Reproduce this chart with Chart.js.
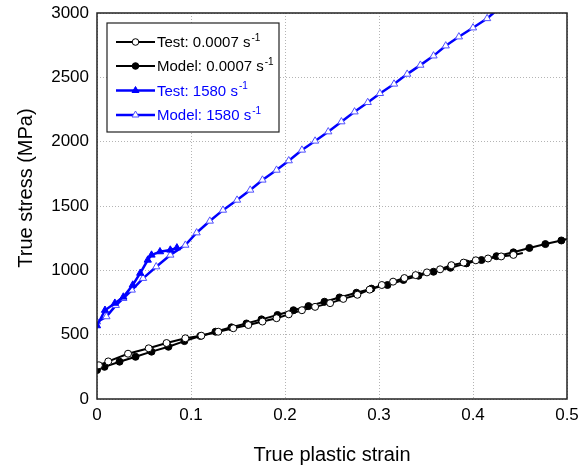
<!DOCTYPE html>
<html>
<head>
<meta charset="utf-8">
<script src="https://cdn.jsdelivr.net/npm/chart.js@4/dist/chart.umd.min.js"></script>
<style>
  body { margin: 0; background: #fff; }
  #wrap { width: 582px; height: 470px; }
</style>
</head>
<body>
<div id="wrap"><canvas id="stressChart" width="582" height="470"></canvas></div>
<script>
// Quasi-static test and model (0.0007 1/s)
const testSlowStrain = [0.002, 0.012, 0.033, 0.055, 0.074, 0.094, 0.111, 0.129, 0.145, 0.161, 0.176, 0.191, 0.204, 0.218, 0.232, 0.248, 0.262, 0.277, 0.290, 0.303, 0.315, 0.327, 0.339, 0.351, 0.365, 0.377, 0.390, 0.403, 0.416, 0.430, 0.443, 0.453];
const testSlowStress = [262, 292, 352, 394, 435, 472, 492, 523, 550, 575, 602, 628, 658, 690, 716, 745, 778, 810, 850, 886, 912, 940, 963, 984, 1008, 1040, 1060, 1078, 1092, 1108, 1120, 1134];

const modelSlowStrain = [0, 0.008, 0.024, 0.041, 0.058, 0.076, 0.093, 0.110, 0.126, 0.143, 0.159, 0.175, 0.192, 0.209, 0.225, 0.242, 0.258, 0.276, 0.292, 0.309, 0.326, 0.342, 0.358, 0.376, 0.393, 0.409, 0.425, 0.443, 0.460, 0.477, 0.494, 0.5];
const modelSlowStress = [225, 250, 290, 328, 368, 406, 450, 490, 523, 557, 587, 619, 653, 690, 722, 756, 789, 826, 858, 886, 925, 958, 989, 1020, 1054, 1080, 1110, 1140, 1174, 1204, 1232, 1243];

// Dynamic test and model (1580 1/s)
const testFastStrain = [0, 0.0085, 0.019, 0.028, 0.038, 0.046, 0.054, 0.058, 0.067, 0.078, 0.085];
const testFastStress = [570, 690, 745, 793, 886, 978, 1080, 1119, 1145, 1158, 1175];

const modelFastStrain = [0, 0.010, 0.020, 0.028, 0.037, 0.049, 0.063, 0.078, 0.094, 0.106, 0.120, 0.134, 0.149, 0.163, 0.176, 0.191, 0.204, 0.218, 0.232, 0.246, 0.260, 0.274, 0.288, 0.301, 0.316, 0.330, 0.344, 0.358, 0.371, 0.385, 0.400, 0.415, 0.425];
const modelFastStress = [600, 640, 728, 782, 847, 938, 1028, 1119, 1196, 1292, 1383, 1468, 1546, 1624, 1702, 1779, 1852, 1935, 2005, 2077, 2155, 2232, 2305, 2375, 2448, 2525, 2595, 2667, 2745, 2815, 2885, 2957, 3020];

const legendNames = ['Test: 0.0007 s', 'Model: 0.0007 s', 'Test: 1580 s', 'Model: 1580 s'];
const legendSup = '-1';

const BLUE = '#0000ff';
const FONT = 'Liberation Sans, Arial, sans-serif';

function toPoints(xs, ys) {
  return xs.map((x, i) => ({ x, y: ys[i] }));
}

// hide marker on a line's trailing point
function noLastMarker(r) {
  return (ctx) => (ctx.dataIndex === ctx.dataset.data.length - 1 ? 0 : r);
}

const datasets = [
  {
    label: legendNames[0],
    data: toPoints(testSlowStrain, testSlowStress),
    borderColor: '#000', borderWidth: 2,
    pointStyle: 'circle', pointRadius: noLastMarker(3.5),
    pointBackgroundColor: '#fff', pointBorderColor: '#000', pointBorderWidth: 1,
  },
  {
    label: legendNames[1],
    data: toPoints(modelSlowStrain, modelSlowStress),
    borderColor: '#000', borderWidth: 2,
    pointStyle: 'circle', pointRadius: noLastMarker(3.5),
    pointBackgroundColor: '#000', pointBorderColor: '#000', pointBorderWidth: 1,
  },
  {
    label: legendNames[2],
    data: toPoints(testFastStrain, testFastStress),
    borderColor: BLUE, borderWidth: 2.5,
    pointStyle: 'triangle', pointRadius: 4.2,
    pointBackgroundColor: BLUE, pointBorderColor: BLUE, pointBorderWidth: 1,
  },
  {
    label: legendNames[3],
    data: toPoints(modelFastStrain, modelFastStress),
    borderColor: BLUE, borderWidth: 2.5,
    pointStyle: 'triangle', pointRadius: noLastMarker(4.2),
    pointBackgroundColor: '#fff', pointBorderColor: '#5050ff', pointBorderWidth: 1,
  },
];

function drawMarker(ctx, style, x, y, r, fill, stroke) {
  ctx.beginPath();
  if (style === 'circle') {
    ctx.arc(x, y, r, 0, Math.PI * 2);
  } else {
    let rad = 0;
    ctx.moveTo(x + Math.sin(rad) * r, y - Math.cos(rad) * r);
    rad += Math.PI * 2 / 3;
    ctx.lineTo(x + Math.sin(rad) * r, y - Math.cos(rad) * r);
    rad += Math.PI * 2 / 3;
    ctx.lineTo(x + Math.sin(rad) * r, y - Math.cos(rad) * r);
    ctx.closePath();
  }
  ctx.fillStyle = fill;
  ctx.fill();
  ctx.lineWidth = 1;
  ctx.strokeStyle = stroke;
  ctx.stroke();
}

// frame, y title and the boxed legend
const framePlugin = {
  id: 'frameLegend',
  afterDraw(chart) {
    const { ctx, chartArea: a } = chart;
    ctx.save();
    ctx.lineWidth = 1.5;
    ctx.strokeStyle = '#222';
    ctx.strokeRect(a.left, a.top, a.right - a.left, a.bottom - a.top);

    // y axis title
    ctx.fillStyle = '#000';
    ctx.font = '20px ' + FONT;
    ctx.textAlign = 'center';
    ctx.textBaseline = 'middle';
    ctx.translate(26, 188);
    ctx.rotate(-Math.PI / 2);
    ctx.fillText('True stress (MPa)', 0, 0);
    ctx.restore();

    // legend
    ctx.save();
    ctx.fillStyle = '#fff';
    ctx.fillRect(107, 23, 172, 109);
    ctx.lineWidth = 1.2;
    ctx.strokeStyle = '#222';
    ctx.strokeRect(107, 23, 172, 109);
    const rowsY = [42, 66, 90.5, 115];
    chart.data.datasets.forEach((ds, i) => {
      const y = rowsY[i];
      ctx.beginPath();
      ctx.moveTo(116, y);
      ctx.lineTo(155, y);
      ctx.lineWidth = ds.borderWidth;
      ctx.strokeStyle = ds.borderColor;
      ctx.stroke();
      drawMarker(ctx, ds.pointStyle, 135.5, y, ds.pointStyle === 'circle' ? 3.3 : 4,
        ds.pointBackgroundColor, ds.pointBorderColor);
      ctx.fillStyle = ds.borderColor;
      ctx.textAlign = 'left';
      ctx.textBaseline = 'middle';
      ctx.font = '15px ' + FONT;
      ctx.fillText(ds.label, 157, y + 1);
      const w = ctx.measureText(ds.label).width;
      ctx.font = '10px ' + FONT;
      ctx.fillText(legendSup, 157 + w + 1, y - 4);
    });
    ctx.restore();
  },
};

new Chart(document.getElementById('stressChart'), {
  type: 'line',
  data: { datasets },
  options: {
    responsive: false,
    animation: false,
    layout: { padding: { top: 13, right: 15, left: 0, bottom: 0 } },
    plugins: {
      legend: { display: false },
      tooltip: { enabled: false },
    },
    elements: { line: { tension: 0 } },
    scales: {
      x: {
        type: 'linear',
        min: 0,
        max: 0.5,
        afterFit: (scale) => { scale.height = 71; },
        ticks: { stepSize: 0.1, padding: 0, color: '#000', font: { family: FONT, size: 17 } },
        grid: { color: '#b4b4b4', lineWidth: 1, drawTicks: true, tickLength: 6, tickColor: 'rgba(0,0,0,0)' },
        border: { display: false, dash: [1, 2] },
        title: {
          display: true,
          text: 'True plastic strain',
          color: '#000',
          font: { family: FONT, size: 20 },
          padding: { top: 0, bottom: 3 },
        },
      },
      y: {
        type: 'linear',
        min: 0,
        max: 3000,
        afterFit: (scale) => { scale.width = 97; },
        ticks: {
          stepSize: 500, padding: 0, color: '#000', font: { family: FONT, size: 17 },
          callback: (v) => String(v),
        },
        grid: { color: '#b4b4b4', lineWidth: 1, drawTicks: true, tickLength: 8, tickColor: 'rgba(0,0,0,0)' },
        border: { display: false, dash: [1, 2] },
      },
    },
  },
  plugins: [framePlugin],
});
</script>
</body>
</html>
